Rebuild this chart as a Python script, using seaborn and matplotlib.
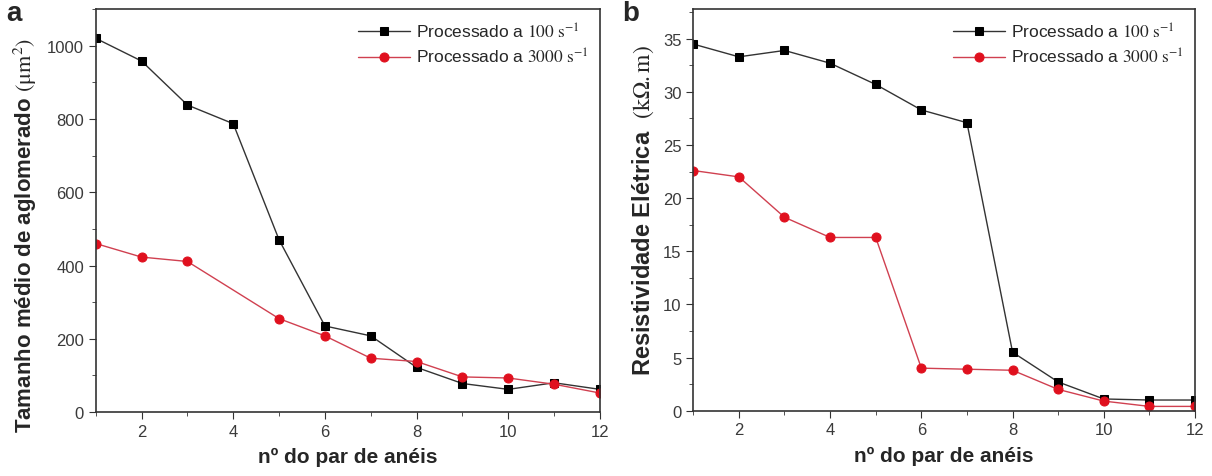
import matplotlib
matplotlib.use('Agg')
import matplotlib.pyplot as plt
import seaborn as sns
import pandas as pd
from matplotlib.ticker import MultipleLocator

# data
pares = [1, 2, 3, 4, 5, 6, 7, 8, 9, 10, 11, 12]
pares_red_a = [1, 2, 3, 5, 6, 7, 8, 9, 10, 11, 12]
tamanho_100 = [1020, 958, 838, 787, 470, 235, 208, 122, 78, 62, 80, 62]
tamanho_3000 = [460, 423, 411, 255, 208, 147, 138, 96, 93, 76, 52]
resist_100 = [34.5, 33.3, 33.9, 32.7, 30.7, 28.3, 27.1, 5.5, 2.7, 1.1, 1.0, 1.0]
resist_3000 = [22.6, 22.0, 18.2, 16.3, 16.3, 4.0, 3.9, 3.8, 2.0, 0.9, 0.4, 0.4]

lab100 = r'Processado a $\mathrm{100\ s^{-1}}$'
lab3000 = r'Processado a $\mathrm{3000\ s^{-1}}$'

sns.set_style('ticks')
plt.rcParams['font.family'] = ['Liberation Sans', 'DejaVu Sans']
plt.rcParams['mathtext.fontset'] = 'stix'

fig = plt.figure(figsize=(12.12, 4.77), dpi=100)
ax1 = fig.add_axes([0.079, 0.134, 0.416, 0.845])
ax2 = fig.add_axes([0.572, 0.137, 0.414, 0.842])

df_a1 = pd.DataFrame({'x': pares, 'y': tamanho_100})
df_a2 = pd.DataFrame({'x': pares_red_a, 'y': tamanho_3000})
df_b1 = pd.DataFrame({'x': pares, 'y': resist_100})
df_b2 = pd.DataFrame({'x': pares, 'y': resist_3000})

for ax, d1, d2 in [(ax1, df_a1, df_a2), (ax2, df_b1, df_b2)]:
    sns.lineplot(data=d1, x='x', y='y', ax=ax, color='#333333', lw=1.0,
                 marker='s', markersize=6, markerfacecolor='black',
                 markeredgecolor='black', label=lab100)
    sns.lineplot(data=d2, x='x', y='y', ax=ax, color='#d04050', lw=1.0,
                 marker='o', markersize=6.5, markerfacecolor='#e0101e',
                 markeredgecolor='#e0101e', label=lab3000)
    ax.set_xlim(1, 12)
    ax.xaxis.set_major_locator(MultipleLocator(2))
    ax.xaxis.set_minor_locator(MultipleLocator(1))
    ax.tick_params(which='both', direction='out', labelsize=12, colors='#333333',
                   labelcolor='#3a3a3a')
    ax.tick_params(which='major', length=5)
    ax.tick_params(which='minor', length=3)
    for s in ax.spines.values():
        s.set_color('#333333')
        s.set_linewidth(1.2)
    ax.set_xlabel('nº do par de anéis', fontsize=15, fontweight='bold', labelpad=6)
    ax.legend(loc='upper right', frameon=False, fontsize=12.5,
              handlelength=3.0, handletextpad=0.3, borderaxespad=0.3,
              labelspacing=0.35)

ax1.set_ylim(0, 1100)
ax1.yaxis.set_major_locator(MultipleLocator(200))
ax1.yaxis.set_minor_locator(MultipleLocator(100))
ax1.set_ylabel(r'Tamanho médio de aglomerado $\mathrm{(\mu m^{2})}$',
               fontsize=16, fontweight='bold')
ax1.yaxis.set_label_coords(-0.112, 0.44)

ax2.set_ylim(0, 37.8)
ax2.yaxis.set_major_locator(MultipleLocator(5))
ax2.yaxis.set_minor_locator(MultipleLocator(2.5))
ax2.set_ylabel(r'Resistividade Elétrica  $\mathrm{(k\Omega.m)}$',
               fontsize=17, fontweight='bold', labelpad=5)

fig.text(0.005, 0.955, 'a', fontsize=20, fontweight='bold')
fig.text(0.513, 0.955, 'b', fontsize=20, fontweight='bold')

fig.savefig('out.png', dpi=100)
